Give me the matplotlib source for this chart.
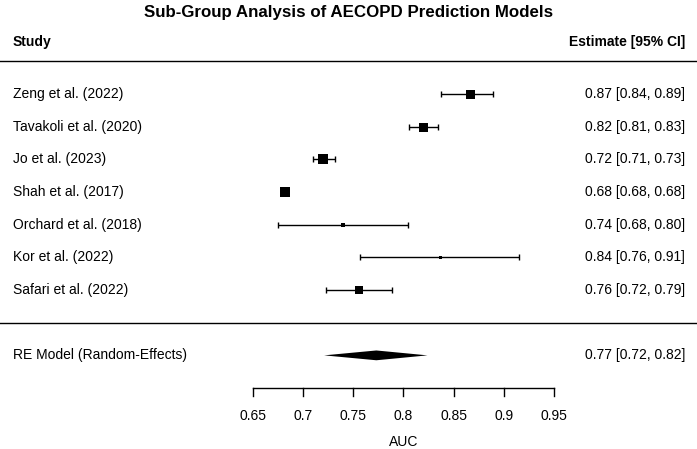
import matplotlib
matplotlib.use('Agg')
import matplotlib.pyplot as plt
from matplotlib.patches import Polygon

plt.rcParams['font.family'] = ['Liberation Sans', 'DejaVu Sans']

studies = ["Zeng et al. (2022)", "Tavakoli et al. (2020)", "Jo et al. (2023)",
           "Shah et al. (2017)", "Orchard et al. (2018)", "Kor et al. (2022)",
           "Safari et al. (2022)"]
est = [0.866, 0.820, 0.720, 0.682, 0.740, 0.836, 0.756]
lo = [0.837, 0.806, 0.710, 0.681, 0.675, 0.757, 0.723]
hi = [0.889, 0.834, 0.732, 0.683, 0.805, 0.915, 0.789]
labels = ["0.87 [0.84, 0.89]", "0.82 [0.81, 0.83]", "0.72 [0.71, 0.73]",
          "0.68 [0.68, 0.68]", "0.74 [0.68, 0.80]", "0.84 [0.76, 0.91]",
          "0.76 [0.72, 0.79]"]
sq_px = [9, 9, 9.5, 10, 5, 3, 8.5]  # square side in pixels ~ weight

re_est, re_lo, re_hi = 0.773, 0.721, 0.824
re_label = "0.77 [0.72, 0.82]"
ticks = [0.65, 0.7, 0.75, 0.8, 0.85, 0.9, 0.95]

fig = plt.figure(figsize=(6.97, 4.49), dpi=100)
ax = fig.add_axes([0, 0, 1, 1])
ax.set_xlim(0.3978, 1.0927)
ax.set_ylim(10.866, -2.877)
ax.axis('off')

xl = 0.3978 + 13 / 1003.0
xr = 0.3978 + 685 / 1003.0

ax.text(0.5, -2.5, "Sub-Group Analysis of AECOPD Prediction Models", transform=ax.get_yaxis_transform(),
        ha='center', va='center', fontsize=12.2, fontweight='bold')
ax.text(xl, -1.6, "Study", ha='left', va='center', fontsize=10, fontweight='bold')
ax.text(xr, -1.6, "Estimate [95% CI]", ha='right', va='center', fontsize=10, fontweight='bold')
ax.axhline(-1.0, color='black', lw=1)

for i, s in enumerate(studies):
    ax.text(xl, i, s, ha='left', va='center', fontsize=10)
    ax.text(xr, i, labels[i], ha='right', va='center', fontsize=10)
    ax.errorbar(est[i], i, xerr=[[est[i] - lo[i]], [hi[i] - est[i]]], fmt='none',
                ecolor='black', elinewidth=1, capsize=2.5, capthick=1)
    ax.plot(est[i], i, marker='s', ms=sq_px[i] * 0.72, color='black', mec='black', mew=0)

ax.axhline(7.0, color='black', lw=1)

ax.text(xl, 8, "RE Model (Random-Effects)", ha='left', va='center', fontsize=10)
ax.text(xr, 8, re_label, ha='right', va='center', fontsize=10)
ax.add_patch(Polygon([[re_lo, 8], [re_est, 7.85], [re_hi, 8], [re_est, 8.15]],
                     closed=True, color='black', lw=0))

# bottom axis
ya = 9.0
ax.plot([ticks[0], ticks[-1]], [ya, ya], color='black', lw=1)
for t in ticks:
    ax.plot([t, t], [ya, ya + 0.25], color='black', lw=1)
    ax.text(t, 9.85, f"{t:g}", ha='center', va='center', fontsize=10)
ax.text((ticks[0] + ticks[-1]) / 2, 10.65, "AUC", ha='center', va='center', fontsize=10)

fig.savefig("out.png", dpi=100)
